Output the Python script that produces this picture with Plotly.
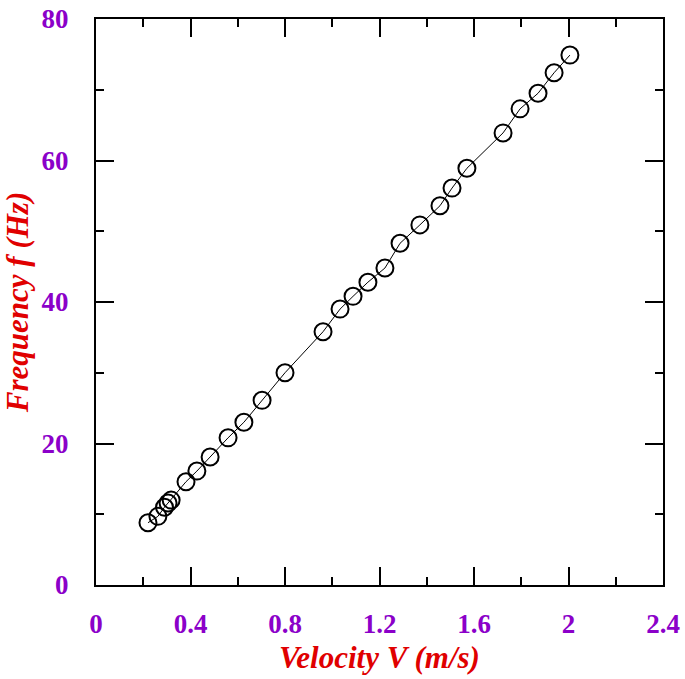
import plotly.graph_objects as go

velocity = [0.220, 0.262, 0.290, 0.305, 0.318, 0.381, 0.427, 0.483, 0.559, 0.626, 0.703, 0.800,
            0.961, 1.033, 1.088, 1.151, 1.223, 1.287, 1.371, 1.456, 1.507, 1.570,
            1.723, 1.795, 1.871, 1.939, 2.006]
frequency = [8.8, 9.7, 11.0, 11.6, 12.0, 14.6, 16.1, 18.1, 20.8, 23.0, 26.1, 30.0,
             35.8, 39.0, 40.8, 42.8, 44.8, 48.3, 50.9, 53.6, 56.1, 58.9,
             63.9, 67.3, 69.5, 72.4, 74.9]

x_ticks = [0, 0.4, 0.8, 1.2, 1.6, 2, 2.4]
x_ticklabels = ["0", "0.4", "0.8", "1.2", "1.6", "2", "2.4"]
y_ticks = [0, 20, 40, 60, 80]

purple = "#8B00C9"
red = "#E00000"
tickfont = dict(family="Liberation Serif", size=27, color=purple, weight="bold")
titlefont = dict(family="Liberation Serif", size=31, color=red)

fig = go.Figure()
fig.add_trace(go.Scatter(
    x=velocity, y=frequency, mode="lines+markers",
    line=dict(color="black", width=1),
    marker=dict(symbol="circle-open", size=17, color="black", line=dict(width=2, color="black")),
    showlegend=False,
))

axis_common = dict(
    showgrid=False, zeroline=False, showline=True, linecolor="black", linewidth=2,
    ticks="inside", ticklen=18, tickwidth=2, tickcolor="black",
    mirror="allticks", tickfont=tickfont, automargin=False,
    ticklabeloverflow="allow",
)

fig.update_xaxes(
    range=[0, 2.4], tickvals=x_ticks, ticktext=x_ticklabels, ticklabelstandoff=14,
    minor=dict(dtick=0.2, ticks="inside", ticklen=8, tickwidth=2, tickcolor="black"),
    title=dict(text="<b><i>Velocity V (m/s)</i></b>", font=titlefont, standoff=8),
    **axis_common,
)
fig.update_yaxes(
    range=[0, 80], tickvals=y_ticks, ticklabelstandoff=20,
    minor=dict(dtick=10, ticks="inside", ticklen=8, tickwidth=2, tickcolor="black"),
    title=dict(text="<b><i>Frequency f (Hz)</i></b>", font=titlefont, standoff=10),
    **axis_common,
)

fig.update_layout(
    width=685, height=679,
    margin=dict(l=96, r=22, t=19, b=94),
    plot_bgcolor="white", paper_bgcolor="white",
)

fig.write_html("out.html", config={"displayModeBar": False},
               post_script="document.body.style.margin='0px';")
